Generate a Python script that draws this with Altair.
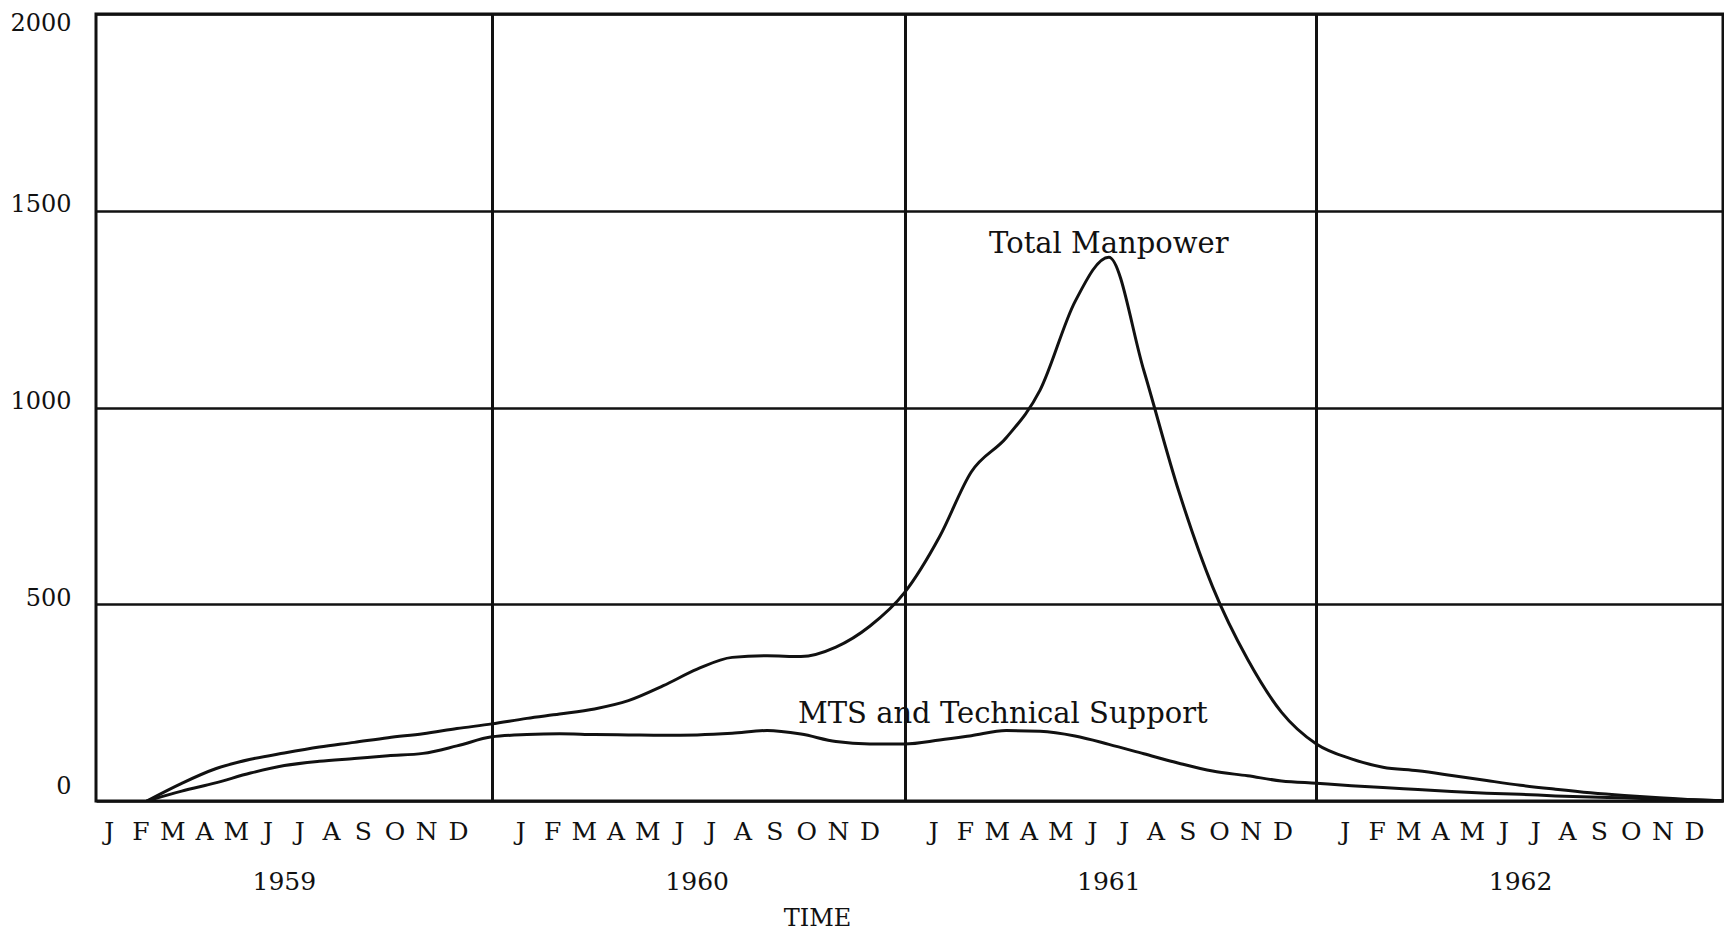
import altair as alt
import pandas as pd

# ---- data (first day of each month, Mar 1959 .. Jan 1963)
months = pd.date_range("1959-03-01", "1963-01-01", freq="MS").strftime("%Y-%m-%d").tolist()

total_manpower = [
    0, 45, 82, 106, 122, 137, 149, 161, 171, 184,                 # 1959 Mar-Dec
    196, 210, 221, 234, 255, 293, 335, 365, 369, 367, 391, 444,   # 1960
    530, 672, 836, 923, 1044, 1269, 1382, 1094, 787, 544, 360, 226,  # 1961
    145, 107, 86, 77, 65, 52, 40, 30, 21, 14, 8, 3,               # 1962
    0,                                                            # Jan 1963
]
mts_support = [
    0, 25, 46, 71, 90, 101, 108, 115, 121, 140,
    163, 169, 171, 169, 168, 167, 168, 172, 179, 170, 151, 145,
    145, 155, 166, 179, 177, 165, 144, 120, 96, 76, 64, 51,
    45, 39, 34, 29, 24, 20, 17, 13, 10, 8, 5, 3,
    0,
]

years = [1959, 1960, 1961, 1962]
month_letters = ["J", "F", "M", "A", "M", "J", "J", "A", "S", "O", "N", "D"]
y_ticks = [0, 500, 1000, 1500, 2000]

label_texts = ["Total Manpower", "MTS and Technical Support"]
label_dates = ["1961-07-01", "1961-03-29"]
label_values = [1393, 198]

# ---- tables
lines_df = pd.DataFrame({
    "date": months * 2,
    "value": total_manpower + mts_support,
    "series": ["Total Manpower"] * len(months) + ["MTS and Technical Support"] * len(months),
})
month_df = pd.DataFrame(
    [{"year": y, "idx": i, "letter": l} for y in years for i, l in enumerate(month_letters)]
)
year_df = pd.DataFrame({"year": years})
label_df = pd.DataFrame({"text": label_texts, "date": label_dates, "value": label_values})

INK = "#111111"
SERIF = "DejaVu Serif"

x_scale = alt.Scale(
    type="utc",
    domain=[
        alt.DateTime(year=1959, month=1, date=15, utc=True),
        alt.DateTime(year=1962, month=12, date=27, hours=12, utc=True),
    ],
)
y_scale = alt.Scale(domain=[0, 2000], nice=False, zero=False)

x_axis = alt.Axis(
    values=[alt.DateTime(year=y, month=1, date=1, utc=True) for y in years[1:]],
    grid=True, gridColor=INK, gridWidth=3, gridOpacity=1,
    ticks=False, labels=False, domain=False,
    title="TIME", titleFont=SERIF, titleFontSize=24, titleFontWeight="normal",
    titleColor=INK, titleX=721, titleY=117, titleAlign="center", titleBaseline="middle",
)
y_axis = alt.Axis(
    values=y_ticks, format="d", grid=True, gridColor=INK, gridWidth=2.5, gridOpacity=1,
    ticks=False, domain=False, title=None,
    labelFont=SERIF, labelFontSize=24, labelColor=INK, labelPadding=25,
    labelOffset={
        "condition": [
            {"test": "datum.value === 2000", "value": 9},
            {"test": "datum.value === 0", "value": -15},
        ],
        "value": -6,
    },
)

lines = alt.Chart(lines_df).mark_line(
    color=INK, strokeWidth=3, interpolate="monotone", clip=True
).encode(
    x=alt.X("date:T", scale=x_scale, axis=x_axis),
    y=alt.Y("value:Q", scale=y_scale, axis=y_axis),
    detail="series:N",
)

month_text = alt.Chart(month_df).transform_calculate(
    pos="utc(datum.year, 0, 1) + (25.7 + 28.15 * datum.idx) * 86400000"
).mark_text(
    font=SERIF, fontSize=25, color=INK, align="center", baseline="middle",
).encode(
    x=alt.X("pos:T", scale=x_scale, axis=x_axis),
    y=alt.value(818),
    text="letter:N",
)

year_text = alt.Chart(year_df).transform_calculate(
    pos="utc(datum.year, 6, 1)", label="'' + datum.year"
).mark_text(
    font=SERIF, fontSize=25, color=INK, align="center", baseline="middle",
).encode(
    x=alt.X("pos:T", scale=x_scale, axis=x_axis),
    y=alt.value(868),
    text="label:N",
)

series_labels = alt.Chart(label_df).mark_text(
    font=SERIF, fontSize=29, color=INK, align="center", baseline="alphabetic",
).encode(
    x=alt.X("date:T", scale=x_scale, axis=x_axis),
    y=alt.Y("value:Q", scale=y_scale, axis=y_axis),
    text="text:N",
)

chart = alt.layer(lines, month_text, year_text, series_labels).properties(
    width=1627,
    height=787,
    autosize=alt.AutoSizeParams(type="none"),
    padding={"left": 88, "top": 6, "right": 1, "bottom": 133},
).configure(background="white").configure_view(stroke=INK, strokeWidth=3)

chart.save("out.html", embed_options={"renderer": "svg", "actions": False})
